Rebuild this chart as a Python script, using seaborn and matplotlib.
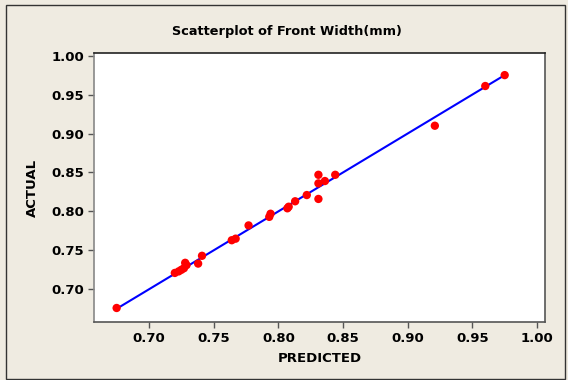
import matplotlib
matplotlib.use("Agg")
import matplotlib.pyplot as plt
import seaborn as sns
import pandas as pd
from matplotlib.patches import Rectangle

predicted = [0.675, 0.720, 0.723, 0.725, 0.727, 0.728, 0.729, 0.738, 0.741,
             0.764, 0.767, 0.777, 0.793, 0.794, 0.807, 0.808, 0.813, 0.822,
             0.831, 0.831, 0.831, 0.836, 0.844, 0.921, 0.960, 0.975]
actual = [0.676, 0.721, 0.723, 0.725, 0.727, 0.734, 0.731, 0.733, 0.743,
          0.763, 0.765, 0.782, 0.793, 0.797, 0.804, 0.806, 0.813, 0.821,
          0.847, 0.836, 0.816, 0.839, 0.847, 0.910, 0.961, 0.975]
xticks = [0.70, 0.75, 0.80, 0.85, 0.90, 0.95, 1.00]
yticks = [0.70, 0.75, 0.80, 0.85, 0.90, 0.95, 1.00]

df = pd.DataFrame({"PREDICTED": predicted, "ACTUAL": actual})
ref = pd.DataFrame({"x": [min(predicted), max(predicted)],
                    "y": [min(predicted), max(predicted)]})

sns.set_style("white")
plt.rcParams["font.family"] = ["DejaVu Sans"]
plt.rcParams["text.color"] = "black"
plt.rcParams["axes.labelcolor"] = "black"
plt.rcParams["xtick.color"] = "black"
plt.rcParams["ytick.color"] = "black"
bg = "#EFEBE1"
fig = plt.figure(figsize=(5.68, 3.80), dpi=100, facecolor=bg)
ax = fig.add_axes([94/568, 1-322/380, (545.3-94)/568, (322-53.3)/380])
ax.set_facecolor("white")

sns.lineplot(data=ref, x="x", y="y", ax=ax, color="#0000FF", linewidth=1.5, zorder=2)
sns.scatterplot(data=df, x="PREDICTED", y="ACTUAL", ax=ax, color="#FF0000",
                s=36, edgecolor="none", zorder=3)

ax.set_xlim(0.6575, 1.0064)
ax.set_ylim(0.658, 1.003)
ax.set_xticks(xticks)
ax.set_yticks(yticks)
ax.set_xticklabels([f"{t:.2f}" for t in xticks], fontsize=9.5, fontweight="bold", color="black")
ax.set_yticklabels([f"{t:.2f}" for t in yticks], fontsize=9.5, fontweight="bold", color="black")
ax.tick_params(axis="both", direction="out", length=4, width=1, color="#555555",
               bottom=True, left=True, pad=3)
ax.set_xlabel("PREDICTED", fontsize=9.5, fontweight="bold", labelpad=5, color="black")
ax.set_ylabel("ACTUAL", fontsize=9.5, fontweight="bold", labelpad=9, color="black")
for side in ["left", "bottom", "top", "right"]:
    ax.spines[side].set_visible(True)
    ax.spines[side].set_linewidth(1.2)
ax.spines["left"].set_color("#888888")
ax.spines["bottom"].set_color("#555555")
ax.spines["top"].set_color("#222222")
ax.spines["right"].set_color("#555555")

fig.text(287/568, 1-31/380, "Scatterplot of Front Width(mm)", ha="center", va="center",
         fontsize=9.3, fontweight="bold", color="black")

fig.patches.append(Rectangle((5.5/568, 1.5/380), (565-5.5)/568, (378-4)/380,
                             transform=fig.transFigure, fill=False,
                             edgecolor="#333333", linewidth=1.0))

fig.savefig("out.png", dpi=100, facecolor=bg)
